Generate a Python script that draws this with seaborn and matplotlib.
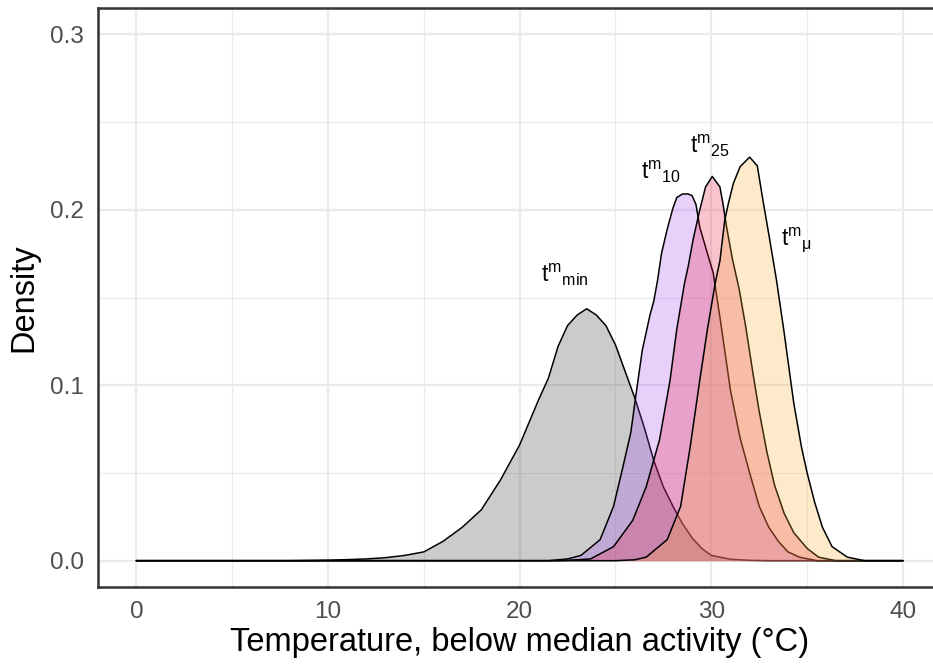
import numpy as np
import pandas as pd
import matplotlib
matplotlib.use("Agg")
import matplotlib.pyplot as plt
import seaborn as sns

# ---- data -------------------------------------------------------------
x_min = [0, 8, 10, 11, 12, 13, 14, 15, 16, 17, 18, 19, 20, 20.5, 21, 21.5, 22, 22.5,
         23, 23.5, 24, 24.5, 25, 25.5, 26, 26.5, 27, 27.5, 28, 28.5, 29, 29.5, 30,
         31, 32, 33, 40]
d_min = [0, 0, 0.0003, 0.0006, 0.001, 0.0017, 0.003, 0.005, 0.011, 0.019, 0.029, 0.046,
         0.066, 0.079, 0.092, 0.104, 0.122, 0.134, 0.140, 0.1436, 0.140, 0.134, 0.123,
         0.108, 0.093, 0.076, 0.057, 0.042, 0.031, 0.021, 0.013, 0.007, 0.003, 0.0008,
         0.0002, 0, 0]

x_10 = [0, 21.5, 22.5, 23.2, 24.2, 24.9, 25.4, 25.8, 26.1, 26.4, 26.8, 27.0, 27.2, 27.4,
        27.7, 28.0, 28.2, 28.5, 28.8, 29.0, 29.2, 29.4, 29.8, 30.1, 30.5, 31.0, 31.5,
        32.0, 32.5, 33.0, 33.5, 34.0, 34.6, 35.5, 40]
d_10 = [0, 0, 0.001, 0.003, 0.012, 0.031, 0.054, 0.073, 0.097, 0.120, 0.140, 0.148, 0.160,
        0.175, 0.189, 0.201, 0.207, 0.209, 0.209, 0.208, 0.203, 0.190, 0.175, 0.164,
        0.135, 0.097, 0.070, 0.050, 0.031, 0.019, 0.011, 0.005, 0.002, 0, 0]

x_25 = [0, 22.0, 23.0, 23.7, 24.9, 25.9, 26.6, 27.3, 27.85, 28.2, 28.6, 28.8, 29.05,
        29.4, 29.7, 30.05, 30.45, 30.6, 30.8, 31.1, 31.45, 31.8, 32.2, 32.5, 32.9, 33.3,
        33.8, 34.3, 35.0, 35.6, 36.5, 40]
d_25 = [0, 0, 0.0005, 0.001, 0.008, 0.023, 0.042, 0.069, 0.103, 0.132, 0.158, 0.168,
        0.183, 0.200, 0.213, 0.219, 0.213, 0.204, 0.190, 0.172, 0.155, 0.133, 0.105,
        0.085, 0.062, 0.043, 0.027, 0.016, 0.007, 0.002, 0, 0]

x_mu = [0, 25.0, 26.0, 26.6, 27.7, 28.4, 28.9, 29.4, 29.8, 30.2, 30.45, 30.7, 30.9,
        31.15, 31.5, 32.0, 32.4, 32.7, 33.0, 33.4, 33.8, 34.3, 34.7, 35.0, 35.4, 35.8,
        36.3, 37.1, 38.0, 40]
d_mu = [0, 0, 0.0005, 0.002, 0.012, 0.031, 0.065, 0.103, 0.132, 0.158, 0.171, 0.194,
        0.204, 0.215, 0.2245, 0.230, 0.225, 0.205, 0.186, 0.160, 0.130, 0.090, 0.065,
        0.050, 0.033, 0.019, 0.008, 0.002, 0, 0]

series = ["min", "10", "25", "mu"]
labels = [r"$\mathregular{t^{m}{}_{min}}$", r"$\mathregular{t^{m}{}_{10}}$",
          r"$\mathregular{t^{m}{}_{25}}$", r"$\mathregular{t^{m}{}_{μ}}$"]
label_x = [22.37, 27.38, 29.93, 34.42]
label_y = [0.163, 0.2217, 0.2365, 0.183]
fills = ["#333333", "#A347EF", "#EB173B", "#F7AF2F"]

x_ticks = [0, 10, 20, 30, 40]
y_ticks = [0.0, 0.1, 0.2, 0.3]
y_tick_labels = ["0.0", "0.1", "0.2", "0.3"]

frames = []
for name, xs, ds in zip(series, [x_min, x_10, x_25, x_mu], [d_min, d_10, d_25, d_mu]):
    frames.append(pd.DataFrame({"x": xs, "density": ds, "curve": name}))
df = pd.concat(frames, ignore_index=True)

# ---- plot ---------------------------------------------------------------
sns.set_style("white")
plt.rcParams["font.family"] = ["Liberation Sans", "DejaVu Sans"]
plt.rcParams["mathtext.fontset"] = "custom"
plt.rcParams["mathtext.rm"] = "Liberation Sans"

fig = plt.figure(figsize=(9.33, 6.66), dpi=100)
ax = fig.add_axes([98 / 933, 79 / 666, (941.3 - 98) / 933, (587 - 8) / 666])

for i, (name, col) in enumerate(zip(series, fills)):
    sub = df[df["curve"] == name]
    ax.fill_between(sub["x"], sub["density"], color=col, alpha=0.25, lw=0, zorder=2 + 2 * i)
    sns.lineplot(data=sub, x="x", y="density", color="black", lw=1.1, sort=False,
                 estimator=None, ax=ax, zorder=3 + 2 * i)

for lab, lx, ly in zip(labels, label_x, label_y):
    ax.text(lx, ly, lab, ha="center", va="center", fontsize=16.5, color="black", zorder=20)

ax.set_xlim(-2, 42)
ax.set_ylim(-0.015, 0.315)
ax.set_xticks(x_ticks)
ax.set_yticks(y_ticks)
ax.set_yticklabels(y_tick_labels)
ax.set_xticks([5, 15, 25, 35], minor=True)
ax.set_yticks([0.05, 0.15, 0.25], minor=True)
ax.set_axisbelow(True)
ax.grid(which="major", color="#EBEBEB", lw=1.6)
ax.grid(which="minor", color="#EBEBEB", lw=0.8)
ax.tick_params(which="major", length=6, width=1.8, color="#333333",
               labelcolor="#4D4D4D", labelsize=17.5, pad=4)
ax.tick_params(which="minor", length=0)
for s in ax.spines.values():
    s.set_color("#333333")
    s.set_linewidth(1.8)

ax.set_xlabel("Temperature, below median activity (°C)", fontsize=23.5, color="black", labelpad=3)
ax.set_ylabel("Density", fontsize=23.5, color="black", labelpad=8)

fig.savefig("out.png", dpi=100)
